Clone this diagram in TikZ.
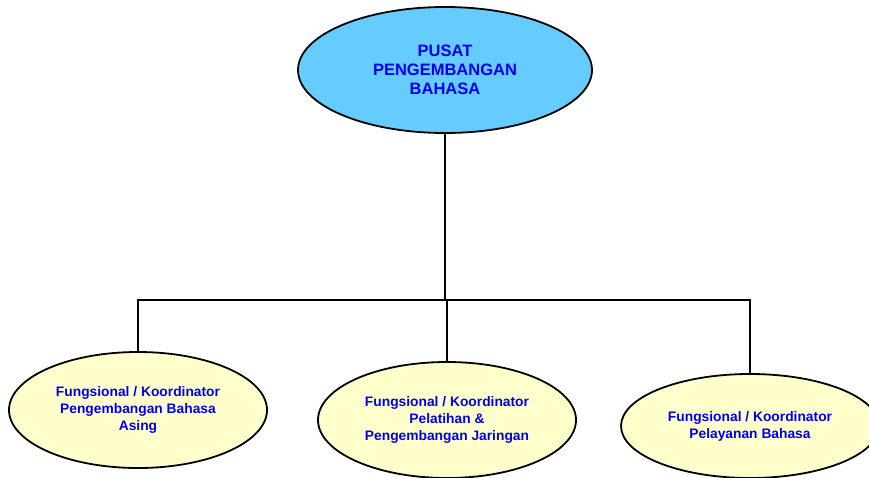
\documentclass[tikz,border=0pt]{standalone}
\usepackage{fontspec}
\setmainfont{Liberation Sans}
\usetikzlibrary{shapes.geometric}
\definecolor{topfill}{HTML}{66CCFF}
\definecolor{subfill}{HTML}{FFFFCC}
\definecolor{txtblue}{HTML}{0000F0}
\begin{document}
\begin{tikzpicture}[x=1pt,y=-1pt,
  oval/.style={ellipse,draw=black,line width=1.8pt,inner sep=0pt,align=center,text=txtblue},
  topoval/.style={oval,fill=topfill,minimum width=294pt,minimum height=126pt,font=\bfseries\fontsize{16.5}{19}\selectfont},
  suboval/.style={oval,fill=subfill,minimum width=258pt,minimum height=116pt,font=\bfseries\fontsize{13.8}{17}\selectfont},
  link/.style={draw=black,line width=1.8pt}]
\useasboundingbox (0,0) rectangle (869,477);
\node[topoval] (top) at (445,70) {PUSAT\\PENGEMBANGAN\\BAHASA};
\node[suboval] (c1) at (138,410) {Fungsional / Koordinator\\Pengembangan Bahasa\\Asing};
\node[suboval] (c2) at (447,420) {Fungsional / Koordinator\\Pelatihan \&\\Pengembangan Jaringan};
\node[suboval,minimum height=104pt] (c3) at (750,426) {Fungsional / Koordinator\\Pelayanan Bahasa};
\coordinate (j) at (445,300);
\draw[link] (top.south) -- (j);
\draw[link] (c1.north) -- (c1.north |- j) -- (c3.north |- j) -- (c3.north);
\draw[link] (c2.north) -- (c2.north |- j);
\end{tikzpicture}
\end{document}
